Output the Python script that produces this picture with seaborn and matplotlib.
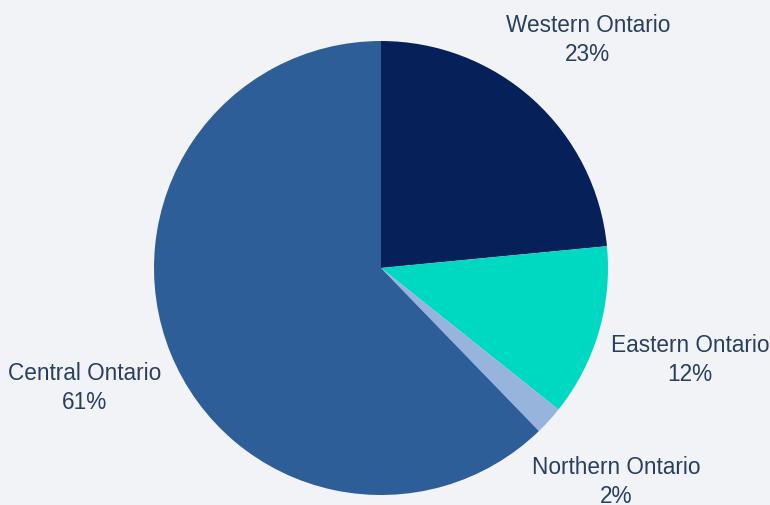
import matplotlib
matplotlib.use("Agg")
import matplotlib.pyplot as plt
import seaborn as sns
import numpy as np

# regions and their shares (values as shown on the chart)
regions = ["Western Ontario", "Eastern Ontario", "Northern Ontario", "Central Ontario"]
shares = [23, 12, 2, 61]
colors = ["#06215a", "#00d9c1", "#97b4dc", "#2e5e97"]

# how far out each outside label sits (in pie radii)
label_dist = [1.355, 1.42, 1.40, 1.41]


def main():
    sns.set_theme(style="white")
    plt.rcParams["font.family"] = ["Liberation Sans", "DejaVu Sans"]

    bg = "#f2f3f7"
    fig = plt.figure(figsize=(7.7, 5.05), dpi=100, facecolor=bg)
    ax = fig.add_axes([0.2000, 0.0198, 0.5896, 0.8990])
    ax.set_facecolor(bg)

    labels = [f"{r}\n{s}%" for r, s in zip(regions, shares)]
    wedges, texts = ax.pie(
        shares,
        labels=labels,
        colors=colors,
        startangle=90,
        counterclock=False,
        labeldistance=1.39,
        wedgeprops={"linewidth": 0},
        textprops={"fontsize": 16.3, "color": "#2a3f5f", "linespacing": 1.35},
    )
    # re-place labels along each wedge's mid angle
    for w, t, d in zip(wedges, texts, label_dist):
        mid = np.deg2rad((w.theta1 + w.theta2) / 2)
        t.set_position((d * np.cos(mid), d * np.sin(mid)))
        t.set_horizontalalignment("center")
        t.set_verticalalignment("center")

    ax.set_xlim(-1, 1)
    ax.set_ylim(-1, 1)
    ax.axis("off")

    fig.savefig("out.png", dpi=100, facecolor=bg)


if __name__ == "__main__":
    main()
